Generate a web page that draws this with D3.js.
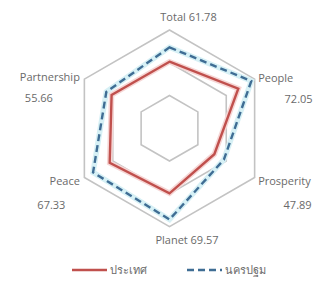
<!DOCTYPE html>
<html>
<head>
<meta charset="utf-8">
<script src="https://cdn.jsdelivr.net/npm/d3@7"></script>
<style>
  html, body { margin: 0; padding: 0; background: #fff; }
  svg text { font-family: "Open Sans", "Noto Sans", "DejaVu Sans", sans-serif; font-size: 11px; fill: #6a6a6a; }
</style>
</head>
<body>
<svg id="chart" width="327" height="286"></svg>
<script>
// Axes, clockwise from the top
const axes = ["Total", "People", "Prosperity", "Planet", "Peace", "Partnership"];
// ประเทศ (country)
const countryValues = [50.8, 60.6, 39.5, 49.6, 52.7, 51.0];
// นครปฐม (Nakhon Pathom) - the labelled values
const provinceValues = [61.78, 72.05, 47.89, 69.57, 67.33, 55.66];
const valueLabels = ["61.78", "72.05", "47.89", "69.57", "67.33", "55.66"];
const gridLevels = [25, 50, 75];
const seriesNames = ["ประเทศ", "นครปฐม"];

const conf = {
  cx: 169.5,
  cy: 128.3,
  radius: 98.3,
  max: 75,
  grid: "#c3c3c3",
  red: "#c0504d",
  blue: "#3f6d94"
};

// where each axis label sits, relative to the outer vertex
const labelLayout = [
  { inline: true, dx: 19, dy: -13, anchor: "middle" },
  { dx: 3.5, dy: -1, anchor: "start", vdx: 58, vdy: 20, vanchor: "end" },
  { dx: 3.5, dy: 3.5, anchor: "start", vdx: 57, vdy: 27.5, vanchor: "end" },
  { inline: true, dx: 17.5, dy: 13.5, anchor: "middle" },
  { dx: -4.5, dy: 3.5, anchor: "end", vdx: -33, vdy: 27.5, vanchor: "middle" },
  { dx: -4.5, dy: -2.5, anchor: "end", vdx: -45.5, vdy: 19, vanchor: "middle" }
];

const svg = d3.select("#chart");
const g = svg.append("g").attr("transform", `translate(${conf.cx},${conf.cy})`);

const r = d3.scaleLinear().domain([0, conf.max]).range([0, conf.radius]);
const angle = d3.scalePoint().domain(axes).range([0, 2 * Math.PI * 5 / 6]);

function pt(axis, v) {
  const a = angle(axis) - Math.PI / 2;
  return [Math.cos(a) * r(v), Math.sin(a) * r(v)];
}

const radial = d3.lineRadial()
  .angle((d, i) => angle(axes[i]))
  .radius(d => r(d))
  .curve(d3.curveLinearClosed);

// hexagonal gridlines
g.selectAll(".grid")
  .data(gridLevels)
  .enter().append("path")
    .attr("class", "grid")
    .attr("d", lv => radial(axes.map(() => lv)))
    .attr("fill", "none")
    .attr("stroke", conf.grid)
    .attr("stroke-width", 1.6);

// soft halo under the series lines (the original is a bit blurry)
const series = [
  { name: seriesNames[0], values: countryValues, color: conf.red, dash: null, halo: "#f6d6d5" },
  { name: seriesNames[1], values: provinceValues, color: conf.blue, dash: "7,4", halo: "#d6f0f5" }
];

g.selectAll(".halo")
  .data(series)
  .enter().append("path")
    .attr("class", "halo")
    .attr("d", s => radial(s.values))
    .attr("fill", "none")
    .attr("stroke", s => s.halo)
    .attr("stroke-width", 5.5)
    .attr("stroke-linejoin", "miter");

g.selectAll(".series")
  .data(series)
  .enter().append("path")
    .attr("class", "series")
    .attr("d", s => radial(s.values))
    .attr("fill", "none")
    .attr("stroke", s => s.color)
    .attr("stroke-width", 2.4)
    .attr("stroke-dasharray", s => s.dash)
    .attr("stroke-linejoin", "miter");

// axis labels
axes.forEach((axis, i) => {
  const [vx, vy] = pt(axis, conf.max);
  const lay = labelLayout[i];
  if (lay.inline) {
    g.append("text")
      .attr("x", vx + lay.dx)
      .attr("y", vy + lay.dy)
      .attr("dy", "0.35em")
      .attr("text-anchor", lay.anchor)
      .text(axis + "  " + valueLabels[i]);
  } else {
    g.append("text")
      .attr("x", vx + lay.dx)
      .attr("y", vy + lay.dy)
      .attr("dy", "0.35em")
      .attr("text-anchor", lay.anchor)
      .text(axis);
    g.append("text")
      .attr("x", vx + lay.vdx)
      .attr("y", vy + lay.vdy)
      .attr("dy", "0.35em")
      .attr("text-anchor", lay.vanchor)
      .text(valueLabels[i]);
  }
});

// legend
const legend = svg.append("g").attr("transform", "translate(72,270)");
const legendX = d3.scalePoint().domain(seriesNames).range([0, 115]);

const item = legend.selectAll(".item")
  .data(series)
  .enter().append("g")
    .attr("class", "item")
    .attr("transform", s => `translate(${legendX(s.name)},0)`);

item.append("line")
  .attr("x1", 0).attr("x2", 35)
  .attr("y1", 0).attr("y2", 0)
  .attr("stroke", s => s.color)
  .attr("stroke-width", 2.4)
  .attr("stroke-dasharray", s => s.dash);

item.append("text")
  .attr("x", 38)
  .attr("y", 0)
  .attr("dy", "0.35em")
  .attr("font-size", "10.5px")
  .text(s => s.name);
</script>
</body>
</html>
